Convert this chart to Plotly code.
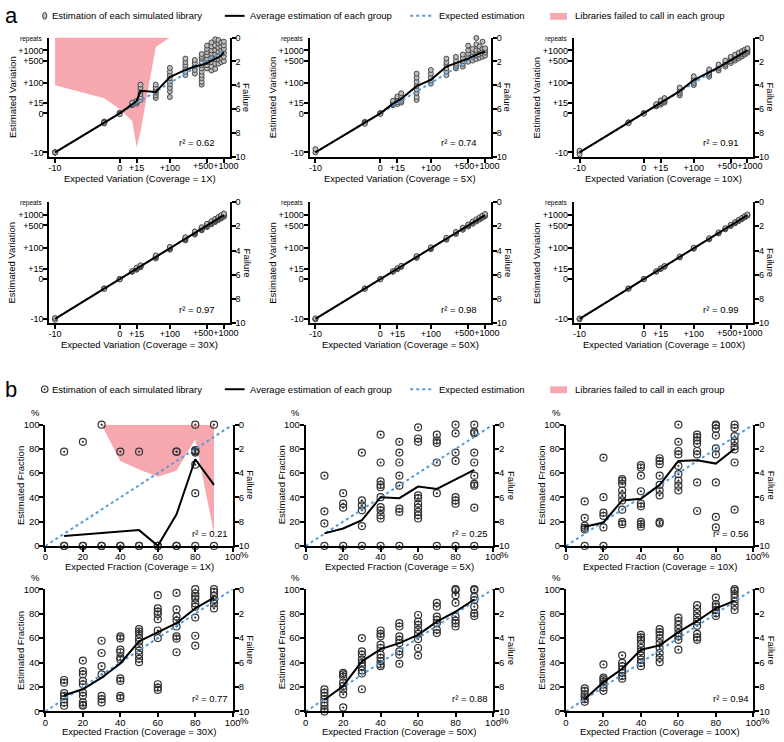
import numpy as np
import plotly.graph_objects as go

W, H = 784, 742

# ---------------- Panel a data (variation in repeats) ----------------
A_GROUPS = [-10, -5, 0, 10, 15, 20, 50, 100, 200, 300, 400, 500, 600, 700, 800, 900, 1000]
A_TICKS = [-10, 0, 15, 100, 500, 1000]
A_TICK_TEXT = ["-10", "0", "+15", "+100", "+500", "+1000"]
A_COVERAGE = ["1X", "5X", "10X", "30X", "50X", "100X"]
A_R2 = ["0.62", "0.74", "0.91", "0.97", "0.98", "0.99"]
A_EXPECTED = [-10, 1000]

A_EST_1X = [
    [-10, -10, -10, -10, -10, -10],
    [-4.5, -5, -5.3, -4.8, -5],
    [0.6, 0, -0.6],
    [11, 13, 16],
    [14, 17, 20],
    [22, 30, 40, 52, 68, 88],
    [27, 35, 45, 52, 60, 70, 88],
    [30, 50, 68, 90, 113, 145, 180, 230, 300],
    [180, 230, 290, 365, 450, 570],
    [200, 260, 330, 420, 520],
    [88, 110, 145, 180, 230, 290, 365, 450, 570, 650, 780],
    [290, 365, 450, 570, 715, 890, 1100, 1380],
    [250, 330, 450, 600, 800, 1000, 1300, 1700],
    [280, 400, 550, 750, 1000, 1400, 2100],
    [400, 550, 700, 900, 1200, 1600, 2000],
    [450, 600, 800, 1000, 1300, 1700],
    [480, 650, 850, 1100, 1400, 1800],
]
A_AVG_1X = [-10, -5, 0, 12.5, 19.6, 53, 48, 155, 260, 330, 365, 420, 500, 560, 620, 700, 890]
A_FAIL_1X = [4.0, 5.1, 6.0, 7.0, 9.2, 7.9, 0.8, 0, 0, 0, 0, 0, 0, 0, 0, 0, 0]
A_FAIL_NONE = [0] * 17

A_EST_5X = [
    [-10, -10.2, -9.8],
    [-4.6, -5, -5.4],
    [0.4, 0, -0.4],
    [11, 13, 16, 20],
    [13, 17, 22, 28, 32],
    [16, 20, 26, 34, 43],
    [22, 30, 45, 60, 80, 110, 150, 200],
    [95, 120, 150, 200, 260],
    [180, 230, 290, 365, 450, 570],
    [290, 330, 400, 500, 640],
    [330, 400, 480, 600, 750],
    [460, 600, 800, 1000, 1380],
    [500, 620, 750, 900, 1100],
    [550, 700, 850, 1000, 1500, 2300],
    [600, 750, 900, 1050, 1300],
    [650, 800, 950, 1100, 1800],
    [700, 850, 1000, 1150],
]
A_AVG_5X = [-10, -5, 0, 14, 19, 25, 78, 127, 330, 410, 490, 570, 660, 760, 820, 870, 890]

A_EST_10X = [
    [-10, -10.1, -9.9],
    [-4.8, -5, -5.2],
    [0.3, 0, -0.3],
    [9, 11, 13],
    [12, 15, 18, 21],
    [16, 19, 23, 27],
    [35, 42, 50, 60, 70],
    [85, 100, 120, 140, 165],
    [160, 185, 210, 240, 270],
    [250, 290, 330, 380],
    [330, 380, 440, 500],
    [420, 480, 550, 640],
    [500, 570, 650, 750],
    [580, 660, 750, 850],
    [660, 750, 850, 950],
    [750, 850, 950, 1050],
    [850, 950, 1050, 1150],
]
A_AVG_10X = [-10, -5, 0, 11, 16, 21, 52, 125, 215, 310, 410, 510, 610, 710, 800, 900, 1000]

A_EST_30X = [
    [-10, -10.05, -9.95],
    [-4.9, -5, -5.1],
    [0.2, 0, -0.2],
    [9.5, 10, 10.6],
    [13, 14, 15, 16, 17.2],
    [18, 19, 20, 21.3, 22.5],
    [44, 47, 50, 53, 57],
    [90, 95, 100, 106, 111],
    [178, 190, 200, 212, 222],
    [268, 285, 300, 316, 333],
    [358, 380, 400, 421, 444],
    [448, 474, 500, 527, 556],
    [538, 569, 600, 632, 664],
    [628, 664, 700, 737, 775],
    [718, 758, 800, 842, 886],
    [806, 853, 900, 948, 996],
    [895, 947, 1000, 1053, 1108],
]
A_AVG_30X = [-10, -5, 0, 10, 15, 20, 50, 100, 200, 300, 400, 500, 600, 700, 800, 900, 1000]

A_EST_50X = [
    [-10, -10.03, -9.97],
    [-4.93, -5, -5.07],
    [0.15, 0, -0.15],
    [9.6, 10, 10.4],
    [14, 15, 16.1],
    [18.7, 20, 21.4],
    [46, 50, 54],
    [93, 100, 107],
    [186, 200, 215],
    [279, 300, 322],
    [371, 400, 430],
    [464, 500, 537],
    [557, 600, 645],
    [650, 700, 752],
    [743, 800, 860],
    [836, 900, 967],
    [928, 1000, 1075],
]
A_AVG_50X = [-10, -5, 0, 10, 15, 20, 50, 100, 200, 300, 400, 500, 600, 700, 800, 900, 1000]

A_EST_100X = [
    [-10, -10.02, -9.98],
    [-4.95, -5, -5.05],
    [0.1, 0, -0.1],
    [9.7, 10, 10.3],
    [14.4, 15, 15.6],
    [19.2, 20, 20.8],
    [48, 50, 52],
    [96, 100, 104],
    [192, 200, 208],
    [288, 300, 312],
    [384, 400, 416],
    [480, 500, 521],
    [576, 600, 625],
    [672, 700, 729],
    [768, 800, 833],
    [864, 900, 937],
    [960, 1000, 1041],
]
A_AVG_100X = [-10, -5, 0, 10, 15, 20, 50, 100, 200, 300, 400, 500, 600, 700, 800, 900, 1000]

A_EST = [A_EST_1X, A_EST_5X, A_EST_10X, A_EST_30X, A_EST_50X, A_EST_100X]
A_AVG = [A_AVG_1X, A_AVG_5X, A_AVG_10X, A_AVG_30X, A_AVG_50X, A_AVG_100X]
A_FAIL = [A_FAIL_1X, A_FAIL_NONE, A_FAIL_NONE, A_FAIL_NONE, A_FAIL_NONE, A_FAIL_NONE]

# ---------------- Panel b data (fraction, %) ----------------
B_GROUPS = [10, 20, 30, 40, 50, 60, 70, 80, 90]
B_COVERAGE = ["1X", "5X", "10X", "30X", "50X", "100X"]
B_R2 = ["0.21", "0.25", "0.56", "0.77", "0.88", "0.94"]
B_EXPECTED = [0, 100]
B_TICKS = [0, 20, 40, 60, 80, 100]
FAIL_TICKS = [0, 2, 4, 6, 8, 10]

B_EST_1X = [
    [77.7, 0, 0],
    [85.9, 0, 0],
    [100, 0, 0],
    [77.7, 0, 0],
    [77.7, 0, 0],
    [0, 0],
    [77.7, 77.7, 0, 0],
    [100, 79, 78, 78, 77, 67, 43.5, 0],
    [100, 0],
]
B_AVG_1X = [8.2, 9.4, 10.6, 11.8, 13, 0, 26, 71.5, 50.3]
B_FAIL_1X = [0, 0, 0, 3.0, 3.7, 4.3, 3.8, 1.2, 9.0]
B_FAIL_NONE = [0] * 9

B_EST_5X = [
    [57.9, 28.5, 18.5, 0],
    [43.5, 34.8, 31.5, 0],
    [76.9, 37.5, 33.4, 29.3, 16.3, 0],
    [91.8, 68.8, 53.3, 50.3, 48.4, 40.2, 32, 29.3, 25.3, 22.6, 0],
    [85.9, 77, 68.8, 57.9, 49.7, 30.7, 28, 0],
    [97.8, 88.6, 85.9, 41.6, 39.4, 34.8, 31.5, 28, 25.3, 22.6],
    [91.8, 87, 85, 68.8, 43.5, 0],
    [100, 92.9, 77, 70.1, 40.2, 37.5, 34.8, 0],
    [100, 94, 92.9, 77, 68.8, 57.9, 51.1, 49.7, 31.5, 0],
]
B_AVG_5X = [10.3, 14.4, 21.2, 40.2, 39.4, 48.9, 47, 55.2, 62.8]

B_EST_10X = [
    [36.7, 23.1, 16.6, 14.9, 13.6, 0],
    [72.8, 40.2, 27.4, 24.7, 15.2, 0],
    [55.2, 53.8, 51.1, 45.7, 41.6, 37.5, 29.9, 19.8, 17.9],
    [66.6, 64.7, 57.9, 45.1, 34.8, 32.6, 19.8, 17.9, 15.8],
    [72.3, 70.1, 67.4, 57.9, 50.3, 45.7, 41.6, 19.8, 18.5],
    [100, 85.9, 78.3, 75.5, 66, 59.2, 53.8, 49.7, 45.7],
    [91.8, 89.7, 87, 84.2, 78.3, 75.5, 52.4, 28.8],
    [100, 99.5, 96.7, 91, 80.4, 75.5, 52.4, 23.9, 15.2],
    [100, 97.3, 90.5, 86.4, 82.3, 79.6, 68.8, 29.9],
]
B_AVG_10X = [15.8, 19.3, 37.5, 38.9, 50.3, 70.1, 70.7, 67.9, 80.2]

B_EST_30X = [
    [25.7, 23.5, 14.9, 12.7, 10, 7.3, 4.6],
    [41.6, 33, 30.3, 24.9, 22.2, 15.4, 12.7, 7.3, 5.4, 4.6],
    [57.8, 47.8, 37, 30.3, 12.7, 10, 7.3],
    [61.4, 59.7, 50.5, 48.4, 44.3, 42.4, 27, 24.9, 12.7, 10.8],
    [67.3, 65.4, 63.5, 60, 57.3, 53.2, 49.7, 46.5, 43, 40.3],
    [95.1, 84.3, 81.6, 79.5, 75.4, 66.2, 60, 22.2, 19.5, 17.6],
    [97, 83.5, 77.6, 74.3, 69.5, 61.4, 59.5, 48.4],
    [100, 96.5, 94.3, 92.4, 88.4, 85.7, 76.8, 61.9, 53.8],
    [100, 97.8, 94.6, 91.6, 91, 88.4, 84.3],
]
B_AVG_30X = [13.2, 18.1, 27.6, 39.2, 57.3, 64.6, 72.2, 84.3, 93.2]

B_EST_50X = [
    [18, 15.4, 12.7, 10, 7.3, 4.6, 1.9, 0],
    [31.6, 30.3, 28.4, 23.5, 20.8, 18.1, 14, 3.2],
    [60, 49.2, 46.5, 42.4, 39.7, 37, 33.5, 31, 18.1],
    [66.2, 63.5, 61.4, 54.6, 51.9, 46.5, 43.8, 41.1, 38.4, 37],
    [72.2, 69.5, 61.4, 58.6, 55.9, 49.2, 46.5, 38.9],
    [78.9, 73.5, 70.8, 66.8, 63.5, 59.2, 51.9, 45.7],
    [88.9, 85.7, 77.6, 74.9, 72.2, 66.8, 64.1],
    [100, 99.2, 95.1, 88.9, 77.6, 74.3, 72.2, 69.5],
    [100, 99.2, 93.8, 91.1, 85.7, 80.3, 78.1],
]
B_AVG_50X = [9.5, 20.8, 41, 51, 55.9, 62.7, 73.5, 81.6, 91.6]

B_EST_100X = [
    [18.9, 16.8, 14, 12.2, 10, 7.8],
    [38.4, 27.6, 26.2, 24.3, 22.2, 19.5, 16.8],
    [45.9, 39.7, 37, 34.3, 31.6, 28.9, 26.8],
    [62.7, 60.5, 58.6, 55.4, 51.9, 49.2, 45.7, 42.4, 39.7, 37],
    [67.3, 64.9, 62.7, 59.5, 55.9, 51.9, 47.8, 43.8, 40.3],
    [76.8, 74, 70.8, 67.6, 64.1, 61.4, 58.6, 50.5],
    [87, 83.8, 80.3, 77, 73.5, 70, 63.5, 60.5, 58.6],
    [93.2, 87.8, 85.7, 83, 80.3, 78.1],
    [100, 98.6, 96, 93.2, 90, 86.5, 83],
]
B_AVG_100X = [10, 24, 34.9, 50.5, 54, 64.9, 74, 84.3, 90.5]

B_EST = [B_EST_1X, B_EST_5X, B_EST_10X, B_EST_30X, B_EST_50X, B_EST_100X]
B_AVG = [B_AVG_1X, B_AVG_5X, B_AVG_10X, B_AVG_30X, B_AVG_50X, B_AVG_100X]
B_FAIL = [B_FAIL_1X, B_FAIL_NONE, B_FAIL_NONE, B_FAIL_NONE, B_FAIL_NONE, B_FAIL_NONE]

# ---------------- styling ----------------
FONT = "Liberation Sans, Arial, sans-serif"
PINK = "#F7A8AF"
BLUE = "#5B9BD5"
A_COLS = [(47, 230), (311, 495), (579, 761)]
A_ROWS = [(32, 153), (199, 322)]
B_COLS = [(43, 233), (307, 497), (571, 761)]
B_ROWS = [(425, 548), (592, 716)]
A_XRANGE = [-2.834, 4.44]
A_YRANGE = [-2.889, 5.056]


def vscale(v):
    """Display transform of the variation axis (log-like, as in the figure)."""
    v = np.asarray(v, dtype=float)
    pos = np.log1p(np.clip(v, 0, None) / 15.2)
    neg = np.log1p(np.clip(v, -10.7, 0) / 10.8)
    return np.where(v >= 0, pos, neg)


def px(x):
    return x / W


def py(y):
    return 1 - y / H


fig = go.Figure()
layout = dict(
    width=W, height=H, margin=dict(l=0, r=0, t=0, b=0),
    paper_bgcolor="white", plot_bgcolor="rgba(0,0,0,0)", showlegend=False,
    font=dict(family=FONT, size=9, color="black"),
)
annotations = []
shapes = []


def ann(text, x, y, size=9.5, angle=0, xanchor="center", yanchor="middle"):
    annotations.append(dict(text=text, x=px(x), y=py(y), xref="paper", yref="paper",
                            showarrow=False, font=dict(size=size, family=FONT, color="black"),
                            textangle=angle, xanchor=xanchor, yanchor=yanchor))


def axc(size, standoff=-2):
    return dict(showline=True, linecolor="black", linewidth=2, ticks="outside", ticklen=4,
                tickwidth=1.5, tickcolor="black", showgrid=False, zeroline=False, tickangle=0,
                ticklabelstandoff=standoff,
                tickfont=dict(size=size, family=FONT, color="black"), fixedrange=True)


A_XTICK_SHOWN = ["-10", "0", "+15", "+100", "", ""]

for p in range(12):
    sec = "a" if p < 6 else "b"
    k = p % 6
    row, col = k // 3, k % 3
    n = p + 1
    xid = "x" if n == 1 else f"x{n}"
    ybase = 2 * p + 1
    yover = 2 * p + 2
    ybase_id = "y" if ybase == 1 else f"y{ybase}"
    yover_id = f"y{yover}"
    xkey = "xaxis" if n == 1 else f"xaxis{n}"
    ybkey = "yaxis" if ybase == 1 else f"yaxis{ybase}"
    yokey = f"yaxis{yover}"
    if sec == "a":
        (x0, x1), (y0, y1) = A_COLS[col], A_ROWS[row]
    else:
        (x0, x1), (y0, y1) = B_COLS[col], B_ROWS[row]
    xdom = [px(x0), px(x1)]
    ydom = [py(y1), py(y0)]
    fs = 9 if sec == "a" else 9.5

    if sec == "a":
        layout[xkey] = dict(axc(fs, -3), domain=xdom, anchor=ybase_id, range=A_XRANGE,
                            tickvals=vscale(A_TICKS).tolist(), ticktext=A_XTICK_SHOWN)
        layout[yokey] = dict(axc(fs), anchor=xid, overlaying=ybase_id, side="left",
                             range=A_YRANGE, tickvals=vscale(A_TICKS).tolist(), ticktext=A_TICK_TEXT)
    else:
        layout[xkey] = dict(axc(fs, -3), domain=xdom, anchor=ybase_id, range=[0, 100],
                            tickvals=B_TICKS, ticktext=["0", "20", "40", "60", "80", "100"])
        layout[yokey] = dict(axc(fs), anchor=xid, overlaying=ybase_id, side="left",
                             range=[0, 100], tickvals=B_TICKS)
    layout[ybkey] = dict(axc(fs), domain=ydom, anchor=xid, side="right", range=[10, 0],
                         tickvals=FAIL_TICKS)

    # failure area (base axis, drawn underneath)
    fail = A_FAIL[k] if sec == "a" else B_FAIL[k]
    groups = A_GROUPS if sec == "a" else B_GROUPS
    gx = vscale(groups) if sec == "a" else np.asarray(groups, dtype=float)
    fig.add_trace(go.Scatter(x=gx, y=fail, xaxis=xid, yaxis=ybase_id, mode="none",
                             fill="tozeroy", fillcolor=PINK, hoverinfo="skip"))

    est = A_EST[k] if sec == "a" else B_EST[k]
    avg = A_AVG[k] if sec == "a" else B_AVG[k]
    xs, ys = [], []
    for g, vals in zip(groups, est):
        xs += [g] * len(vals)
        ys += list(vals)
    if sec == "a":
        fig.add_trace(go.Scatter(x=vscale(xs), y=vscale(ys), xaxis=xid, yaxis=yover_id, mode="markers",
                                 marker=dict(symbol="circle", size=5, color="#bdbdbd",
                                             line=dict(color="#3a3a3a", width=0.9)),
                                 cliponaxis=False))
        fig.add_trace(go.Scatter(x=vscale(A_EXPECTED), y=vscale(A_EXPECTED), xaxis=xid, yaxis=yover_id,
                                 mode="lines", line=dict(color=BLUE, width=2, dash="dot")))
        fig.add_trace(go.Scatter(x=vscale(groups), y=vscale(avg), xaxis=xid, yaxis=yover_id,
                                 mode="lines", line=dict(color="black", width=2)))
    else:
        fig.add_trace(go.Scatter(x=xs, y=ys, xaxis=xid, yaxis=yover_id, mode="markers",
                                 marker=dict(symbol="circle-open-dot", size=7, color="#333333",
                                             line=dict(color="#333333", width=1.2)),
                                 cliponaxis=False))
        fig.add_trace(go.Scatter(x=B_EXPECTED, y=B_EXPECTED, xaxis=xid, yaxis=yover_id,
                                 mode="lines", line=dict(color=BLUE, width=2, dash="dot")))
        fig.add_trace(go.Scatter(x=groups, y=avg, xaxis=xid, yaxis=yover_id,
                                 mode="lines", line=dict(color="black", width=2)))

    # texts
    if sec == "a":
        # the two crowded top tick labels, written side by side as in the figure
        t500, t1000 = vscale([500, 1000])
        xr = A_XRANGE[1] - A_XRANGE[0]
        p500 = x0 + (t500 - A_XRANGE[0]) / xr * (x1 - x0)
        p1000 = x0 + (t1000 - A_XRANGE[0]) / xr * (x1 - x0)
        ann(A_TICK_TEXT[4] + A_TICK_TEXT[5], (p500 + p1000) / 2 + 0.5, y1 + 9.5, size=9)
        ann(f"Expected Variation (Coverage = {A_COVERAGE[k]})", (x0 + x1) / 2, y1 + 22)
        ann("Estimated Variation", x0 - 38, (y0 + y1) / 2, angle=-90)
        ann("Failure", x1 + 17.5, (y0 + y1) / 2, angle=90)
        ann(f"r² = {A_R2[k]}", x1 - 33, y1 - 14)
        ann("repeats", x0 - 5, y0 + 1, size=6.5, xanchor="right")
    else:
        ann(f"Expected Fraction (Coverage = {B_COVERAGE[k]})", (x0 + x1) / 2, min(y1 + 21, 736))
        ann("Estimated Fraction", x0 - 25, (y0 + y1) / 2, angle=-90)
        ann("Failure", x1 + 18.5, (y0 + y1) / 2, angle=90)
        ann(f"r² = {B_R2[k]}", x1 - 23, y1 - 13)
        ann("%", x0 - 10, y0 - 12, size=9.5)
        ann("%", x1 + 12, y1 + 9, size=9.5)

# legends
for ly, label, small in [(10, "a", True), (389, "b", False)]:
    ann(label, 0, ly, size=22, xanchor="left")
    if small:
        shapes.append(dict(type="circle", xref="paper", yref="paper", x0=px(40.2), x1=px(44.4),
                           y0=py(13.5), y1=py(6.5), fillcolor="#bdbdbd", line=dict(color="#3a3a3a", width=0.9)))
    else:
        shapes.append(dict(type="circle", xref="paper", yref="paper", x0=px(39), x1=px(45.6),
                           y0=py(ly + 3.3), y1=py(ly - 3.3), fillcolor="white", line=dict(color="#333333", width=1.2)))
        shapes.append(dict(type="circle", xref="paper", yref="paper", x0=px(41.6), x1=px(43),
                           y0=py(ly + 0.7), y1=py(ly - 0.7), fillcolor="#333333", line=dict(color="#333333", width=0.6)))
    ann("Estimation of each simulated library", 48, ly, xanchor="left")
    shapes.append(dict(type="line", xref="paper", yref="paper", x0=px(225), x1=px(245), y0=py(ly), y1=py(ly),
                       line=dict(color="black", width=2)))
    ann("Average estimation of each group", 248, ly, xanchor="left")
    shapes.append(dict(type="line", xref="paper", yref="paper", x0=px(413), x1=px(436), y0=py(ly), y1=py(ly),
                       line=dict(color=BLUE, width=2, dash="dot")))
    ann("Expected estimation", 440, ly, xanchor="left")
    shapes.append(dict(type="rect", xref="paper", yref="paper", x0=px(555), x1=px(572), y0=py(ly + 4), y1=py(ly - 3),
                       fillcolor=PINK, line=dict(width=0)))
    ann("Libraries failed to call in each group", 578, ly, xanchor="left")

layout["annotations"] = annotations
layout["shapes"] = shapes
fig.update_layout(**layout)
fig.write_html("out.html", config={"displayModeBar": False},
               post_script="document.body.style.margin='0';document.body.style.padding='0';")
